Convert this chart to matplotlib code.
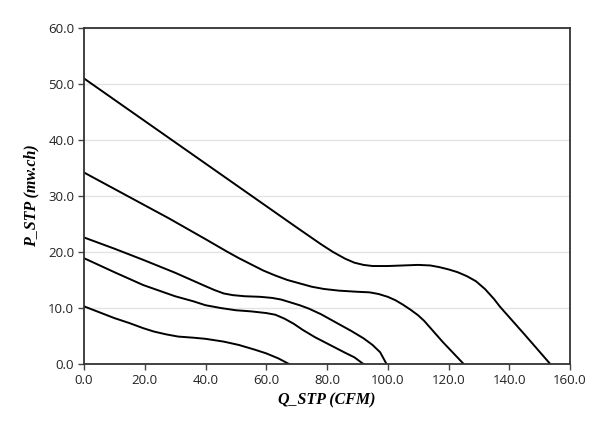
import matplotlib
matplotlib.use("Agg")
import matplotlib.pyplot as plt

# Fan curves (Q in CFM, P in mm w.c.)
q1 = [0, 20, 40, 60, 70, 78, 82, 86, 89, 92, 95, 100, 105, 110, 114, 117, 120, 123, 126, 129, 132, 135, 137, 145, 153.5]
p1 = [51.0, 43.4, 35.8, 28.2, 24.4, 21.4, 20.0, 18.8, 18.1, 17.7, 17.5, 17.5, 17.6, 17.7, 17.6, 17.3, 16.9, 16.4, 15.7, 14.8, 13.4, 11.6, 10.2, 5.3, 0.0]

q2 = [0, 14, 28, 40, 47, 51, 55, 59, 63, 67, 71, 75, 79, 84, 90, 94, 97, 100, 102.5, 105, 107.5, 110, 112, 118, 125]
p2 = [34.2, 30.1, 26.0, 22.3, 20.1, 18.9, 17.8, 16.7, 15.8, 15.0, 14.4, 13.8, 13.4, 13.1, 12.9, 12.8, 12.5, 12.0, 11.4, 10.6, 9.7, 8.7, 7.7, 4.0, 0.0]

q3 = [0, 10, 19.5, 30, 40, 43, 46, 49, 53, 58, 62, 65, 68, 71, 74, 78, 83, 88, 92, 95, 97.5, 99.6]
p3 = [22.6, 20.6, 18.6, 16.3, 13.9, 13.2, 12.6, 12.3, 12.1, 12.0, 11.8, 11.5, 11.0, 10.5, 9.9, 8.9, 7.4, 5.9, 4.6, 3.4, 2.1, 0.0]

q4 = [0, 10, 19.5, 30, 36, 40, 45, 50, 55, 60, 63, 66, 69, 72, 76, 81, 86, 89, 92]
p4 = [18.9, 16.4, 14.1, 12.1, 11.2, 10.5, 10.0, 9.6, 9.4, 9.1, 8.8, 8.1, 7.2, 6.1, 4.8, 3.4, 2.0, 1.2, 0.0]

q5 = [0, 10, 15, 19.5, 23, 27, 31, 36, 40, 46, 51, 56, 60, 64, 67.5]
p5 = [10.3, 8.2, 7.3, 6.4, 5.8, 5.3, 4.9, 4.7, 4.5, 4.0, 3.4, 2.6, 1.9, 1.0, 0.0]

xticks = [0, 20, 40, 60, 80, 100, 120, 140, 160]
yticks = [0, 10, 20, 30, 40, 50, 60]

fig = plt.figure(figsize=(6, 4.25), dpi=100)
ax = fig.add_axes([0.14, 0.1435, 0.81, 0.7905])

for q, p in [(q1, p1), (q2, p2), (q3, p3), (q4, p4), (q5, p5)]:
    ax.plot(q, p, color="black", lw=1.4, solid_joinstyle="round")

ax.set_xlim(0, 160)
ax.set_ylim(0, 60)
ax.set_xticks(xticks)
ax.set_yticks(yticks)
ax.set_xticklabels([f"{v:.1f}" for v in xticks], fontfamily="Open Sans", fontsize=9.5, color="#222222")
ax.set_yticklabels([f"{v:.1f}" for v in yticks], fontfamily="Open Sans", fontsize=9.5, color="#222222")
ax.yaxis.grid(True, color="#e4e4e4", lw=1.0)
ax.set_axisbelow(True)
ax.tick_params(direction="out", length=4, width=1, color="#444444", pad=3)

for s in ax.spines.values():
    s.set_color("#333333")
    s.set_linewidth(1.3)

ax.set_xlabel("Q_STP (CFM)", fontfamily="Liberation Serif", fontstyle="italic",
              fontweight="bold", fontsize=11.5, labelpad=4)
ax.set_ylabel("P_STP (mw.ch)", fontfamily="Liberation Serif", fontstyle="italic",
              fontweight="bold", fontsize=11.5, labelpad=6)

fig.savefig("out.png", dpi=100, facecolor="white")
